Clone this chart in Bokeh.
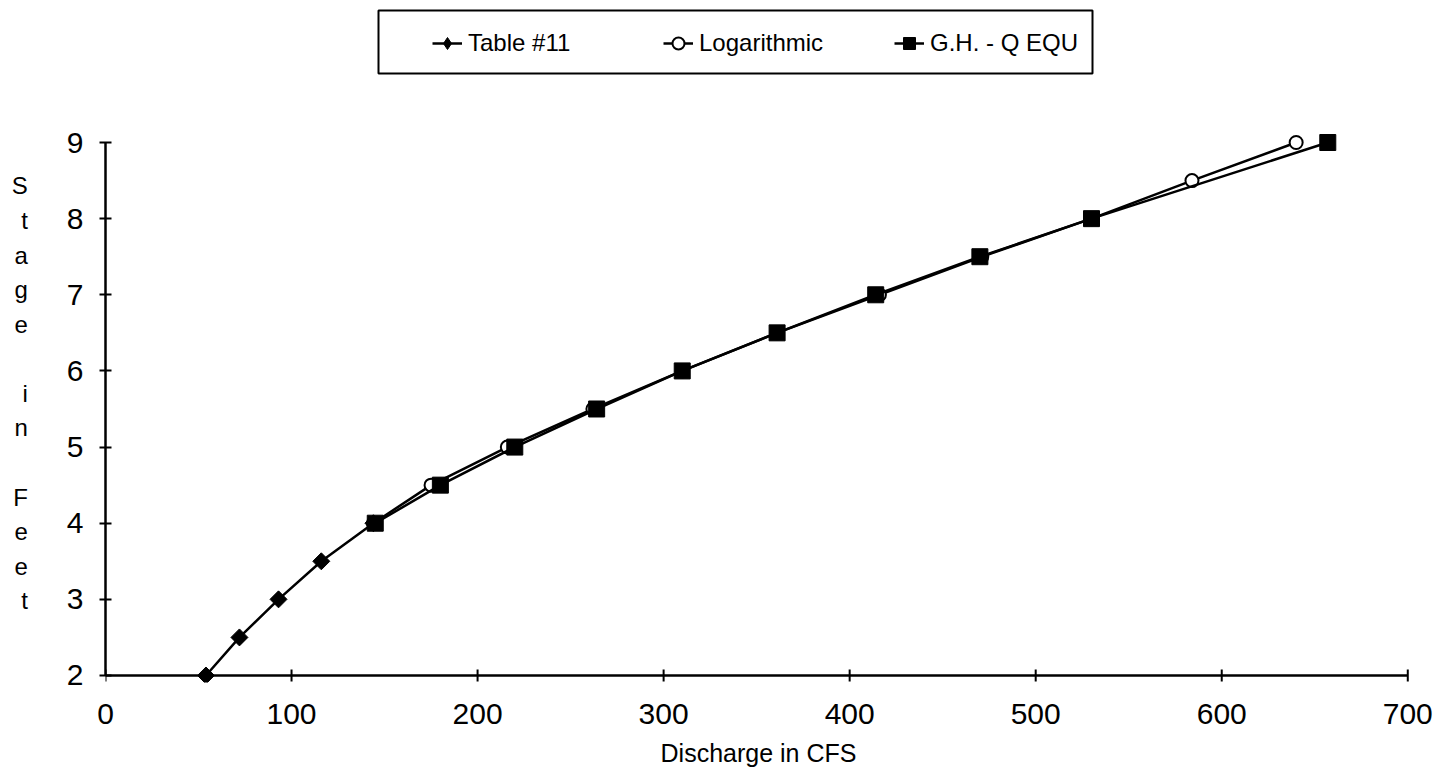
import math
from bokeh.plotting import figure
from bokeh.models import Range1d, FixedTicker, Legend, LegendItem, BoxAnnotation
from bokeh.embed import file_html
from bokeh.resources import INLINE

# ---------------- data ----------------
table_stage = [2.0, 2.5, 3.0, 3.5, 4.0]
table_q = [54, 72, 93, 116, 144]

log_stage = [4.0, 4.5, 5.0, 5.5, 6.0, 6.5, 7.0, 7.5, 8.0, 8.5, 9.0]
log_q = [144, 175, 216, 262, 310, 361, 416, 471, 530, 584, 640]

ghq_stage = [4.0, 4.5, 5.0, 5.5, 6.0, 6.5, 7.0, 7.5, 8.0, 9.0]
ghq_q = [145, 180, 220, 264, 310, 361, 414, 470, 530, 657]

x_ticks = [0, 100, 200, 300, 400, 500, 600, 700]
y_ticks = [2, 3, 4, 5, 6, 7, 8, 9]
series_names = ["Table #11", "Logarithmic", "G.H. - Q EQU"]
x_title = "Discharge in CFS"
y_title = "Stage in Feet"

FONT = "Liberation Sans"

p = figure(width=1441, height=775, output_backend="svg", toolbar_location=None,
           x_range=Range1d(0, 702), y_range=Range1d(1.908, 10.865),
           min_border_left=105, min_border_right=30, min_border_top=0,
           min_border_bottom=93, background_fill_color="white",
           border_fill_color="white")
p.outline_line_color = None
p.xgrid.visible = False
p.ygrid.visible = False

# y axis (library axis, at frame left = discharge 0)
p.yaxis.ticker = FixedTicker(ticks=y_ticks)
p.yaxis.bounds = (y_ticks[0], y_ticks[-1])
p.yaxis.axis_line_color = "black"
p.yaxis.axis_line_width = 2.5
p.yaxis.major_tick_line_color = "black"
p.yaxis.major_tick_line_width = 2
p.yaxis.major_tick_in = 6
p.yaxis.major_tick_out = 6
p.yaxis.minor_tick_line_color = None
p.yaxis.major_label_standoff = 16
# stacked, one character per line (three blank lines on top push the block down)
p.yaxis.axis_label = "\n".join([" ", " ", " "] + list(y_title))
p.yaxis.axis_label_orientation = "horizontal"
p.yaxis.axis_label_standoff = 36
p.yaxis.axis_label_text_font = FONT
p.yaxis.axis_label_text_font_size = "24px"
p.yaxis.axis_label_text_font_style = "normal"
p.yaxis.axis_label_text_color = "black"
p.yaxis.axis_label_text_line_height = 1.28
p.yaxis.axis_label_text_align = "center"

# x axis: library axis gives the labels, its rule is drawn at stage 2 below
p.xaxis.ticker = FixedTicker(ticks=x_ticks)
p.xaxis.axis_line_color = None
p.xaxis.major_tick_line_color = None
p.xaxis.minor_tick_line_color = None
p.xaxis.major_tick_in = 0
p.xaxis.major_tick_out = 0
p.xaxis.major_label_standoff = 21
p.xaxis.axis_label = x_title
p.xaxis.axis_label_standoff = 12
p.xaxis.axis_label_text_font = FONT
p.xaxis.axis_label_text_font_size = "25px"
p.xaxis.axis_label_text_font_style = "normal"
p.xaxis.axis_label_text_color = "black"

for ax in (p.xaxis, p.yaxis):
    ax.major_label_text_font = FONT
    ax.major_label_text_font_size = "30px"
    ax.major_label_text_color = "black"

# x axis rule and tick marks at the bottom of the stage range
p.segment(x0=[x_ticks[0]], y0=[y_ticks[0]], x1=[x_ticks[-1]], y1=[y_ticks[0]],
          line_color="black", line_width=2.5)
p.scatter(x_ticks, [y_ticks[0]] * len(x_ticks), marker="dash", angle=math.pi / 2,
          size=12, line_color="black", line_width=2)

# series
r_t_line = p.line(table_q, table_stage, line_color="black", line_width=2.5)
r_t_key = p.scatter(table_q, table_stage, marker="diamond", size=13,
                    fill_color="black", line_color="black")
r_t_pts = p.scatter(table_q, table_stage, marker="square", angle=math.pi / 4,
                    size=12, fill_color="black", line_color="black")

r_l_line = p.line(log_q, log_stage, line_color="black", line_width=2.5)
r_l_pts = p.scatter(log_q, log_stage, marker="circle", size=13,
                    fill_color="white", line_color="black", line_width=2)

r_g_line = p.line(ghq_q, ghq_stage, line_color="black", line_width=2.5)
r_g_pts = p.scatter(ghq_q, ghq_stage, marker="square", size=16,
                    fill_color="black", line_color="black")

legend = Legend(items=[
    LegendItem(label=series_names[0], renderers=[r_t_line, r_t_key]),
    LegendItem(label=series_names[1], renderers=[r_l_line, r_l_pts]),
    LegendItem(label=series_names[2], renderers=[r_g_line, r_g_pts]),
], orientation="horizontal", location=(327, 624), border_line_color=None,
    background_fill_alpha=0, padding=0, margin=0, spacing=45,
    glyph_width=30, glyph_height=30, label_standoff=6, label_width=150,
    label_text_font=FONT, label_text_font_size="24px",
    label_text_color="black")
p.add_layout(legend)

box = BoxAnnotation(left=378, right=1092, top=10, bottom=73,
                    left_units="canvas", right_units="canvas",
                    top_units="canvas", bottom_units="canvas",
                    fill_alpha=0, line_color="black", line_alpha=1.0,
                    line_width=2)
p.add_layout(box)

open("out.html", "w").write(file_html(p, INLINE))
